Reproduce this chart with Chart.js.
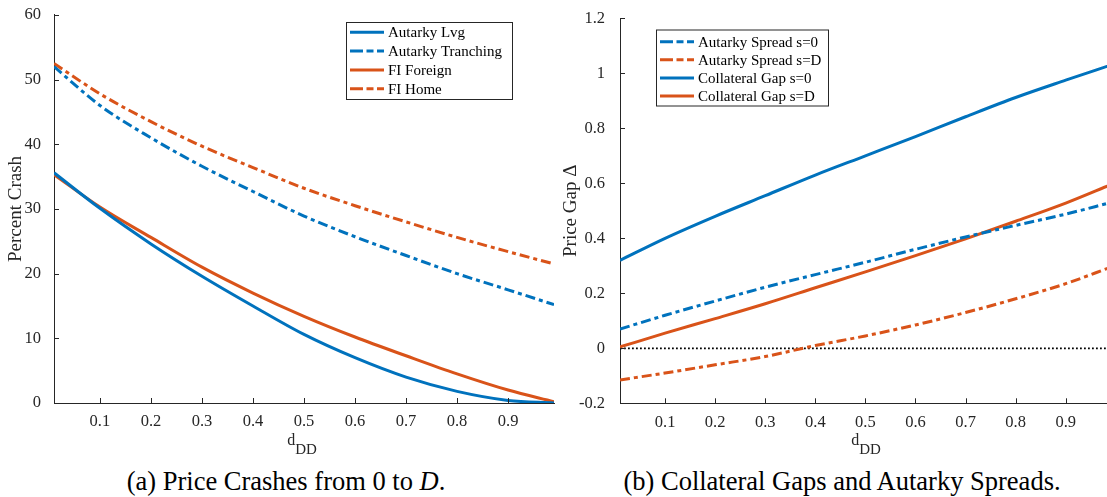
<!DOCTYPE html>
<html>
<head>
<meta charset="utf-8">
<script src="https://cdn.jsdelivr.net/npm/chart.js@4.4.1/dist/chart.umd.min.js"></script>
<style>
  body { margin: 0; width: 1107px; height: 497px; overflow: hidden; background: #fff; position: relative;
         font-family: "Liberation Serif", "Times New Roman", serif; color: #262626; }
  .panel { position: absolute; top: 0; }
  .xlabel { position: absolute; font-size: 16px; line-height: 16px; white-space: nowrap; transform: translateX(-50%); }
  .xlabel span { font-size: 15px; position: relative; top: 9px; }
  .caption { position: absolute; font-size: 26.5px; line-height: 26.5px; color: #000; white-space: nowrap; transform: translateX(-50%); }
</style>
</head>
<body>
<canvas id="crashChart" class="panel" style="left:0px" width="580" height="440"></canvas>
<canvas id="gapChart" class="panel" style="left:560px" width="560" height="440"></canvas>

<div class="xlabel" style="left:302px; top:432px">d<span>DD</span></div>
<div class="xlabel" style="left:866px; top:432px">d<span>DD</span></div>
<div class="caption" style="left:286px; top:468px">(a) Price Crashes from 0 to <i>D</i>.</div>
<div class="caption" style="left:842px; top:468px">(b) Collateral Gaps and Autarky Spreads.</div>

<script>
// d_DD grid the curves were read at
const dGrid = [0.01, 0.1, 0.2, 0.3, 0.4, 0.5, 0.6, 0.7, 0.8, 0.9, 0.99];

// panel (a): percent crash
const autarkyLvg       = [35.6, 30.1, 24.6, 19.6, 15.0, 10.6, 7.0, 4.0, 1.8, 0.4, 0.0];
const autarkyTranching = [52.0, 46.0, 41.0, 36.6, 32.7, 28.9, 25.7, 22.8, 20.0, 17.5, 15.2];
const fiForeign        = [35.3, 30.3, 25.6, 21.0, 17.0, 13.4, 10.2, 7.3, 4.5, 2.0, 0.2];
const fiHome           = [52.5, 47.8, 43.5, 39.7, 36.4, 33.2, 30.5, 28.0, 25.6, 23.4, 21.5];

// panel (b): price gap
const spreadS0 = [0.07, 0.12, 0.172, 0.222, 0.268, 0.313, 0.36, 0.405, 0.447, 0.488, 0.53];
const spreadSD = [-0.115, -0.09, -0.06, -0.03, 0.01, 0.045, 0.085, 0.13, 0.18, 0.235, 0.295];
const gapS0    = [0.32, 0.40, 0.48, 0.555, 0.63, 0.70, 0.77, 0.842, 0.912, 0.975, 1.03];
const gapSD    = [0.005, 0.055, 0.108, 0.162, 0.22, 0.278, 0.337, 0.398, 0.462, 0.528, 0.595];
const zeroLine = [0, 0];

// ticks
const xTicks = [0.1, 0.2, 0.3, 0.4, 0.5, 0.6, 0.7, 0.8, 0.9];
const crashTicks = [0, 10, 20, 30, 40, 50, 60];
const gapTicks = [-0.2, 0, 0.2, 0.4, 0.6, 0.8, 1, 1.2];

const BLUE = "#0072BD";
const ORANGE = "#D95319";
const AXIS = "#262626";
const DASHDOT = [10, 4, 4, 4];

Chart.defaults.font.family = '"Liberation Serif", "Times New Roman", serif';
Chart.defaults.font.size = 16.5;
Chart.defaults.color = AXIS;

function pts(ys) {
  return dGrid.map((x, i) => ({ x: x, y: ys[i] }));
}

function line(label, ys, color, dashed) {
  return {
    label: label,
    data: pts(ys),
    borderColor: color,
    borderWidth: 3,
    borderDash: dashed ? DASHDOT : [],
    pointRadius: 0,
    fill: false,
    cubicInterpolationMode: "monotone",
  };
}

// tick marks pointing into the plot, like matlab
const innerTicks = {
  id: "innerTicks",
  afterDatasetsDraw(chart) {
    const { ctx, chartArea, scales } = chart;
    ctx.save();
    ctx.strokeStyle = AXIS;
    ctx.lineWidth = 1;
    ctx.beginPath();
    scales.x.ticks.forEach(t => {
      const px = Math.round(scales.x.getPixelForValue(t.value)) + 0.5;
      ctx.moveTo(px, chartArea.bottom);
      ctx.lineTo(px, chartArea.bottom - 5);
    });
    scales.y.ticks.forEach(t => {
      const py = Math.round(scales.y.getPixelForValue(t.value)) + 0.5;
      ctx.moveTo(chartArea.left, py);
      ctx.lineTo(chartArea.left + 5, py);
    });
    ctx.stroke();
    ctx.restore();
  },
};

// boxed legend inside the axes
const boxLegend = {
  id: "boxLegend",
  afterDraw(chart, args, o) {
    const ctx = chart.ctx;
    const items = chart.data.datasets.filter(d => !d.noLegend);
    ctx.save();
    ctx.fillStyle = "#fff";
    ctx.fillRect(o.x, o.y, o.w, o.h);
    ctx.strokeStyle = AXIS;
    ctx.lineWidth = 1;
    ctx.strokeRect(o.x + 0.5, o.y + 0.5, o.w, o.h);
    ctx.font = '15px "Liberation Serif", serif';
    ctx.textBaseline = "middle";
    items.forEach((d, i) => {
      const y = o.row0 + i * o.rowGap;
      ctx.strokeStyle = d.borderColor;
      ctx.lineWidth = 3;
      ctx.setLineDash(d.borderDash.length ? [13, 3.5, 7, 3.5] : []);
      ctx.beginPath();
      ctx.moveTo(o.lineX0, y);
      ctx.lineTo(o.lineX1, y);
      ctx.stroke();
      ctx.setLineDash([]);
      ctx.fillStyle = "#000";
      ctx.fillText(d.label, o.textX, y + 1);
    });
    ctx.restore();
  },
};

function axes(yMin, yMax, yTicks, yFmt, yTitle, yWidth, xHeight, yPad, titlePad) {
  return {
    x: {
      type: "linear",
      min: 0.01,
      max: 0.99,
      grid: { display: false },
      border: { display: true, color: AXIS, width: 1 },
      afterBuildTicks: s => { s.ticks = xTicks.map(v => ({ value: v })); },
      afterFit: s => { s.height = xHeight; },
      ticks: { autoSkip: false, maxRotation: 0, padding: 1, callback: v => String(v) },
    },
    y: {
      type: "linear",
      min: yMin,
      max: yMax,
      grid: { display: false },
      border: { display: true, color: AXIS, width: 1 },
      afterBuildTicks: s => { s.ticks = yTicks.map(v => ({ value: v })); },
      afterFit: s => { s.width = yWidth; },
      ticks: { autoSkip: false, padding: yPad, callback: yFmt },
      title: { display: true, text: yTitle, font: { size: 19 }, padding: { top: titlePad, bottom: 0 } },
    },
  };
}

new Chart(document.getElementById("crashChart"), {
  type: "line",
  data: {
    datasets: [
      line("Autarky Lvg", autarkyLvg, BLUE, false),
      line("Autarky Tranching", autarkyTranching, BLUE, true),
      line("FI Foreign", fiForeign, ORANGE, false),
      line("FI Home", fiHome, ORANGE, true),
    ],
  },
  options: {
    responsive: false,
    animation: false,
    layout: { padding: { top: 12, right: 26, left: 0, bottom: 0 } },
    scales: axes(0, 60, crashTicks, v => String(v), "Percent Crash", 54, 37, 5, 5),
    plugins: {
      legend: { display: false },
      tooltip: { enabled: false },
      boxLegend: { x: 346, y: 22, w: 166, h: 77, row0: 32.3, rowGap: 18.8, lineX0: 350, lineX1: 384, textX: 388 },
    },
  },
  plugins: [innerTicks, boxLegend],
});

const zeroSet = {
  label: "zero",
  noLegend: true,
  data: [{ x: 0.01, y: zeroLine[0] }, { x: 0.99, y: zeroLine[1] }],
  borderColor: "#000",
  borderWidth: 1.8,
  borderDash: [1.8, 2.2],
  pointRadius: 0,
};

new Chart(document.getElementById("gapChart"), {
  type: "line",
  data: {
    datasets: [
      line("Autarky Spread s=0", spreadS0, BLUE, true),
      line("Autarky Spread s=D", spreadSD, ORANGE, true),
      line("Collateral Gap s=0", gapS0, BLUE, false),
      line("Collateral Gap s=D", gapSD, ORANGE, false),
      zeroSet,
    ],
  },
  options: {
    responsive: false,
    animation: false,
    layout: { padding: { top: 18.3, right: 9.2, left: 0, bottom: 0 } },
    scales: axes(-0.2, 1.2, gapTicks, v => String(+v.toFixed(1)), "Price Gap \u0394", 60, 36.7, 7, 0),
    plugins: {
      legend: { display: false },
      tooltip: { enabled: false },
      boxLegend: { x: 96, y: 29.5, w: 172, h: 76, row0: 41.7, rowGap: 18.1, lineX0: 100, lineX1: 134, textX: 138 },
    },
  },
  plugins: [innerTicks, boxLegend],
});
</script>
</body>
</html>
